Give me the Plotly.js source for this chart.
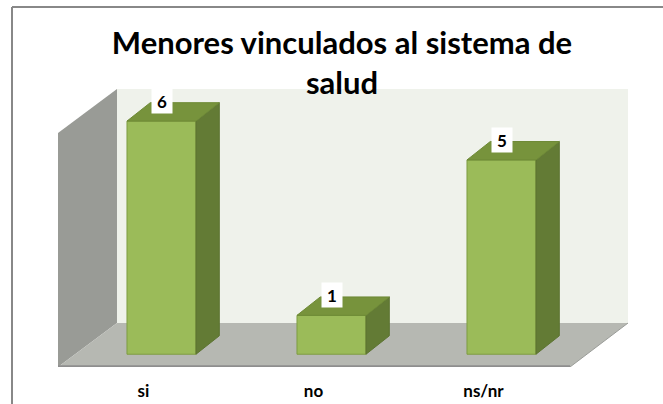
<!DOCTYPE html>
<html>
<head>
<meta charset="utf-8">
<script src="https://cdn.plot.ly/plotly-3.0.1.min.js"></script>
<style>
  html, body { margin: 0; padding: 0; background: #ffffff; }
  #chart { width: 663px; height: 404px; }
</style>
</head>
<body>
<div id="chart"></div>
<script>
// ---- data ----
const categories = ['si', 'no', 'ns/nr'];
const values = [6, 1, 5];
const valueLabels = ['6', '1', '5'];
const chartTitle = 'Menores vinculados al sistema de<br>salud';

// ---- styling / geometry (not data) ----
const FONT = 'Lato, "Open Sans", sans-serif';
const BAR_W = 0.406;     // bar width in category units
const DX = 0.137;        // 3D depth offset, x units
const DY = 0.474;        // 3D depth offset, y units
const X0 = -0.6088, X1 = 2.7441;   // x axis range
const Y0 = -0.329, Y1 = 6.826;     // y axis range
const WALL_X = -0.2618, WALL_Y = 0.803, FLOOR_FRONT_RIGHT = 2.403, SIDE_TOP = 5.694;

const xs = categories.map((c, i) => i);

// front faces
const front = {
  type: 'bar', x: xs, y: values, width: BAR_W,
  marker: { color: '#9BBB59', line: { color: '#7E9C43', width: 1 } },
  hoverinfo: 'skip', showlegend: false
};

// top faces
const topX = [], topY = [];
values.forEach((v, i) => {
  const l = i - BAR_W / 2, r = i + BAR_W / 2;
  topX.push(l, l + DX, r + DX, r, l, null);
  topY.push(v, v + DY, v + DY, v, v, null);
});
const topFace = {
  type: 'scatter', mode: 'lines', x: topX, y: topY, fill: 'toself',
  fillcolor: '#77933C', line: { color: '#6E8A36', width: 1 },
  hoverinfo: 'skip', showlegend: false
};

// side faces
const sideX = [], sideY = [];
values.forEach((v, i) => {
  const r = i + BAR_W / 2;
  sideX.push(r, r, r + DX, r + DX, r, null);
  sideY.push(0, v, v + DY, DY, 0, null);
});
const sideFace = {
  type: 'scatter', mode: 'lines', x: sideX, y: sideY, fill: 'toself',
  fillcolor: '#637B35', line: { color: '#5C7331', width: 1 },
  hoverinfo: 'skip', showlegend: false
};

// value labels
const annotations = values.map((v, i) => ({
  x: i, y: v, xref: 'x', yref: 'y', text: '<b>' + valueLabels[i] + '</b>',
  showarrow: false, yshift: 20, width: 20, height: 24,
  bgcolor: '#ffffff', borderpad: 0,
  font: { family: FONT, size: 17, color: '#000000' }
}));

// stray descender from text above the chart
annotations.push({
  xref: 'paper', yref: 'paper', x: (6 - 58) / 570, y: (367 + 2) / 278,
  xanchor: 'center', yanchor: 'bottom', text: 'g', showarrow: false,
  font: { family: '"Liberation Serif", serif', size: 17, color: '#000' }
});

const px2px = px => (px - 58) / 570;
const py2py = py => (367 - py) / 278;

const shapes = [
  // back wall
  { type: 'rect', xref: 'x', yref: 'y', x0: WALL_X, x1: X1, y0: WALL_Y, y1: Y1,
    fillcolor: '#EFF2EB', line: { width: 0 }, layer: 'below' },
  // left side wall
  { type: 'path', xref: 'x', yref: 'y',
    path: `M${X0},${SIDE_TOP} L${WALL_X},${Y1} L${WALL_X},${WALL_Y} L${X0},${Y0} Z`,
    fillcolor: '#999B96', line: { width: 0 }, layer: 'below' },
  // floor
  { type: 'path', xref: 'x', yref: 'y',
    path: `M${X0},${Y0} L${WALL_X},${WALL_Y} L${X1},${WALL_Y} L${FLOOR_FRONT_RIGHT},${Y0} Z`,
    fillcolor: '#B6B8B2', line: { width: 0 }, layer: 'below' },
  // floor right edge
  { type: 'line', xref: 'x', yref: 'y', x0: FLOOR_FRONT_RIGHT, y0: Y0, x1: X1, y1: WALL_Y,
    line: { color: '#9A9C98', width: 1 }, layer: 'below' },
  // floor front edge
  { type: 'line', xref: 'x', yref: 'y', x0: X0, y0: Y0 + 0.02, x1: FLOOR_FRONT_RIGHT, y1: Y0 + 0.02,
    line: { color: '#8E8E8E', width: 2 }, layer: 'below' },
  // outer frame (top and left)
  { type: 'line', xref: 'paper', yref: 'paper', x0: px2px(12), y0: py2py(7), x1: px2px(700), y1: py2py(7),
    line: { color: '#888888', width: 2 } },
  { type: 'line', xref: 'paper', yref: 'paper', x0: px2px(12), y0: py2py(7), x1: px2px(12), y1: py2py(420),
    line: { color: '#888888', width: 2 } }
];

const layout = {
  width: 663, height: 404,
  margin: { l: 58, r: 35, t: 89, b: 37, pad: 0 },
  paper_bgcolor: '#ffffff', plot_bgcolor: 'rgba(0,0,0,0)',
  title: {
    text: '<b>' + chartTitle + '</b>',
    font: { family: FONT, size: 31, color: '#000000' },
    x: 342 / 663, xref: 'container', xanchor: 'center',
    y: 1 - 54 / 404, yref: 'container', yanchor: 'top'
  },
  xaxis: {
    range: [X0, X1], tickmode: 'array', tickvals: xs, ticktext: categories.map(c => '<b>' + c + '</b>'),
    showgrid: false, zeroline: false, showline: false, ticks: '',
    ticklabelshift: -18, ticklabelstandoff: 12,
    tickfont: { family: FONT, size: 17, color: '#000000' }, fixedrange: true
  },
  yaxis: {
    range: [Y0, Y1], showgrid: false, zeroline: false, showline: false,
    showticklabels: false, ticks: '', fixedrange: true
  },
  shapes: shapes,
  annotations: annotations,
  showlegend: false,
  bargap: 0
};

Plotly.newPlot('chart', [sideFace, topFace, front], layout, { displayModeBar: false, staticPlot: true });
</script>
</body>
</html>
